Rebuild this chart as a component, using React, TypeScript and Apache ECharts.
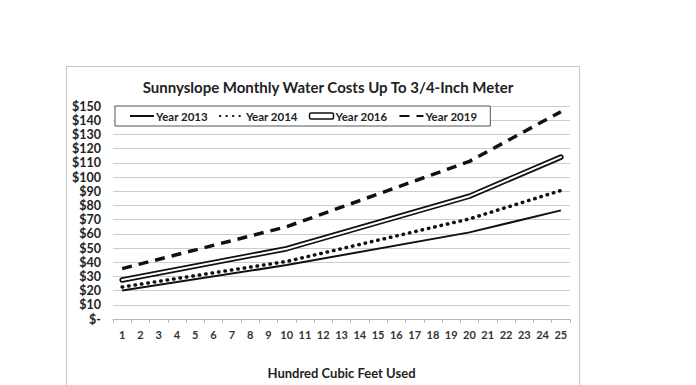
import React, { useEffect, useRef } from "react";
import * as echarts from "echarts";

const categories = Array.from({ length: 25 }, (_, i) => String(i + 1));
// values read at the kink points (1, 10, 20, 25); other categories are connected
const year2013 = [20, null, null, null, null, null, null, null, null, 38, null, null, null, null, null, null, null, null, null, 61, null, null, null, null, 76.5];
const year2014 = [22.5, null, null, null, null, null, null, null, null, 40.5, null, null, null, null, null, null, null, null, null, 70.5, null, null, null, null, 90.5];
const year2016 = [27.5, null, null, null, null, null, null, null, null, 49.5, null, null, null, null, null, null, null, null, null, 86.5, null, null, null, null, 114];
const year2019 = [35.5, null, null, null, null, null, null, null, null, 65, null, null, null, null, null, null, null, null, null, 111, null, null, null, null, 146];
const yTicks = [0, 10, 20, 30, 40, 50, 60, 70, 80, 90, 100, 110, 120, 130, 140, 150];

const FONT = "Lato";
const hidden = { opacity: 0 };

export default function App() {
  const ref = useRef<HTMLDivElement>(null);
  useEffect(() => {
    document.body.style.margin = "0";
    const chart = echarts.init(ref.current!, null, { renderer: "svg" });
    chart.setOption({
      animation: false,
      backgroundColor: "#fff",
      title: {
        text: "Sunnyslope Monthly Water Costs Up To 3/4-Inch Meter",
        left: 323,
        top: 74,
        textAlign: "center",
        textStyle: { fontFamily: FONT, fontWeight: "bold", fontSize: 15, color: "#222" },
      },
      graphic: [
        {
          type: "rect",
          shape: { x: 66.5, y: 66.5, width: 513, height: 340 },
          style: { fill: "none", stroke: "#c8c8c8", lineWidth: 1 },
          silent: true,
          z: -1,
        },
      ],
      legend: {
        left: 115,
        top: 106,
        itemWidth: 24,
        itemHeight: 6,
        itemGap: 11,
        padding: [4, 13, 4, 14],
        borderColor: "#555",
        borderWidth: 1,
        backgroundColor: "#fff",
        textStyle: { fontFamily: FONT, fontWeight: "bold", fontSize: 11.5, color: "#222", padding: [0, 0, 0, -3] },
        data: [
          { name: "Year 2013", itemStyle: hidden },
          { name: "Year 2014", itemStyle: hidden },
          { name: "Year 2016", icon: "roundRect", itemStyle: { color: "#fff", borderColor: "#111", borderWidth: 1.5 } },
          { name: "Year 2019", itemStyle: hidden },
        ],
      },
      grid: { left: 113, right: 126, top: 106, bottom: 66, containLabel: false },
      xAxis: {
        type: "category",
        data: categories,
        boundaryGap: true,
        name: "Hundred Cubic Feet Used",
        nameLocation: "middle",
        nameGap: 47,
        nameTextStyle: { fontFamily: FONT, fontWeight: "bold", fontSize: 13, color: "#222" },
        axisLine: { lineStyle: { color: "#b8b8b8" } },
        axisTick: { show: true, length: 4, lineStyle: { color: "#b8b8b8" } },
        axisLabel: { interval: 0, margin: 10, fontFamily: FONT, fontWeight: "bold", fontSize: 11, color: "#333" },
      },
      yAxis: {
        type: "value",
        min: 0,
        max: 150,
        interval: 10,
        axisLine: { show: false },
        axisTick: { show: false },
        splitLine: { lineStyle: { color: "#c6d0d0", width: 1 } },
        axisLabel: {
          margin: 12,
          fontFamily: FONT,
          fontWeight: "bold",
          fontSize: 12.5,
          color: "#222",
          formatter: (v: number) => (yTicks.includes(v) ? (v === 0 ? "$-" : "$" + v) : ""),
        },
      },
      series: [
        {
          name: "Year 2013",
          type: "line",
          data: year2013,
          connectNulls: true,
          symbol: "none",
          lineStyle: { color: "#111", width: 2 },
          itemStyle: { color: "#111" },
        },
        {
          name: "Year 2014",
          type: "line",
          data: year2014,
          connectNulls: true,
          symbol: "none",
          lineStyle: { color: "#111", width: 3.5, type: [0.5, 6], cap: "round" },
          itemStyle: { color: "#111" },
        },
        {
          name: "Year 2016",
          type: "line",
          data: year2016,
          connectNulls: true,
          symbol: "none",
          lineStyle: { color: "#111", width: 5.5, cap: "round" },
          itemStyle: { color: "#fff", borderColor: "#111" },
        },
        {
          name: "Year 2016 inner",
          type: "line",
          data: year2016,
          connectNulls: true,
          symbol: "none",
          lineStyle: { color: "#fff", width: 2, cap: "round" },
          z: 3,
        },
        {
          name: "Year 2019",
          type: "line",
          data: year2019,
          connectNulls: true,
          symbol: "none",
          lineStyle: { color: "#111", width: 3.5, type: [10, 7] },
          itemStyle: { color: "#111" },
        },
      ],
    });
    return () => chart.dispose();
  }, []);
  return <div ref={ref} style={{ width: 696, height: 385 }} />;
}
